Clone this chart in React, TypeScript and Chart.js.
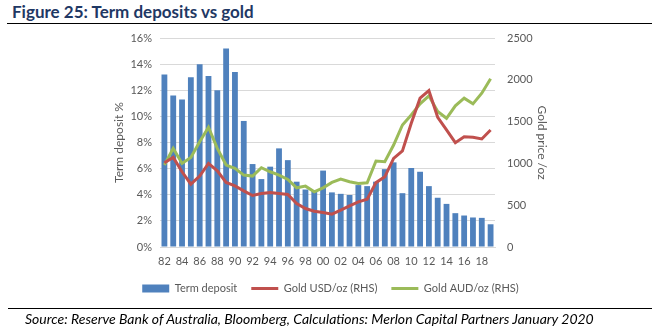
import React, { useEffect, useRef } from "react";
import { Chart, registerables } from "chart.js";

Chart.register(...registerables);

const years = [
  "82", "83", "84", "85", "86", "87", "88", "89", "90", "91", "92", "93", "94", "95", "96", "97", "98", "99",
  "00", "01", "02", "03", "04", "05", "06", "07", "08", "09", "10", "11", "12", "13", "14", "15", "16", "17", "18", "19",
];

const termDeposit = [
  13.2, 11.6, 11.3, 13.0, 14.0, 13.1, 12.0, 15.2, 13.4, 9.65, 6.35, 5.2, 6.15, 7.55, 6.65, 5.0, 4.4, 4.3,
  5.85, 4.18, 4.07, 3.98, 4.74, 4.66, 5.0, 5.96, 6.48, 4.12, 6.05, 5.76, 4.66, 3.77, 3.3, 2.59, 2.41, 2.26, 2.23, 1.74,
];

const goldUSD = [
  1007, 1072, 900, 752, 848, 1000, 911, 772, 731, 671, 616, 640, 652, 640, 628, 520, 460, 428,
  412, 392, 440, 492, 540, 572, 770, 840, 1060, 1150, 1480, 1780, 1871, 1552, 1400, 1248, 1319, 1312, 1292, 1400,
];

const goldAUD = [
  980, 1180, 1000, 1072, 1260, 1432, 1180, 980, 940, 860, 848, 948, 900, 860, 808, 708, 728, 660,
  708, 772, 812, 780, 760, 768, 1028, 1020, 1220, 1460, 1580, 1712, 1808, 1620, 1540, 1688, 1780, 1712, 1840, 2012,
];

const FONT = "Lato, 'Open Sans', sans-serif";
const TICK = "#595959";
const GRID = "#d9d9d9";

export default function App() {
  const ref = useRef<HTMLCanvasElement | null>(null);

  useEffect(() => {
    if (!ref.current) return;
    const chart = new Chart(ref.current, {
      data: {
        labels: years,
        datasets: [
          {
            type: "bar",
            label: "Term deposit",
            data: termDeposit,
            backgroundColor: "#4F81BD",
            borderWidth: 0,
            yAxisID: "y",
            order: 1,
            categoryPercentage: 1,
            barPercentage: 0.66,
          },
          {
            type: "line",
            label: "Gold USD/oz (RHS)",
            data: goldUSD,
            borderColor: "#C0504D",
            backgroundColor: "#C0504D",
            borderWidth: 3,
            pointRadius: 0,
            tension: 0,
            yAxisID: "y1",
            order: 0,
          },
          {
            type: "line",
            label: "Gold AUD/oz (RHS)",
            data: goldAUD,
            borderColor: "#9BBB59",
            backgroundColor: "#9BBB59",
            borderWidth: 3,
            pointRadius: 0,
            tension: 0,
            yAxisID: "y1",
            order: 0,
          },
        ],
      },
      options: {
        responsive: false,
        animation: false,
        devicePixelRatio: 1,
        layout: { padding: { left: 108, right: 110, top: 38, bottom: 32 } },
        plugins: {
          tooltip: { enabled: false },
          legend: {
            position: "bottom",
            labels: {
              font: { family: FONT, size: 11 },
              color: TICK,
              usePointStyle: true,
              pointStyleWidth: 27,
              boxWidth: 27,
              boxHeight: 8,
              padding: 14,
              sort: (a: any, b: any) => a.datasetIndex - b.datasetIndex,
              generateLabels: (chart: any) => {
                const items = Chart.defaults.plugins.legend.labels.generateLabels(chart);
                return items.map((it: any) => {
                  const ds = chart.data.datasets[it.datasetIndex];
                  if (ds.type === "bar") {
                    return { ...it, pointStyle: "rect", lineWidth: 0 };
                  }
                  return { ...it, pointStyle: "line", lineWidth: 3, strokeStyle: ds.borderColor };
                });
              },
            },
          },
        },
        scales: {
          x: {
            afterFit: (s: any) => { s.height = 22; },
            grid: { display: false, drawTicks: false },
            border: { display: true, color: GRID },
            ticks: {
              autoSkip: false,
              maxRotation: 0,
              padding: 8,
              color: TICK,
              font: { family: FONT, size: 11 },
              callback: (_v: any, i: number) => (i % 2 === 0 ? years[i] : ""),
            },
          },
          y: {
            position: "left",
            min: 0,
            max: 16,
            afterFit: (s: any) => { s.width = 52; },
            grid: { color: GRID, drawTicks: false },
            border: { display: false },
            ticks: {
              stepSize: 2,
              padding: 8,
              color: TICK,
              font: { family: FONT, size: 11 },
              callback: (v: any) => v + "%",
            },
            title: {
              display: true,
              text: "Term deposit %",
              color: TICK,
              font: { family: FONT, size: 12 },
              padding: { top: 4, bottom: 0 },
            },
          },
          y1: {
            position: "right",
            min: 0,
            max: 2500,
            afterFit: (s: any) => { s.width = 58; },
            grid: { display: false, drawTicks: false },
            border: { display: false },
            ticks: {
              stepSize: 500,
              padding: 12,
              color: TICK,
              font: { family: FONT, size: 11 },
              callback: (v: any) => String(v),
            },
            title: {
              display: true,
              text: "Gold price /oz",
              color: TICK,
              font: { family: FONT, size: 12 },
              padding: { top: 4, bottom: 0 },
            },
          },
        },
      },
    } as any);
    return () => chart.destroy();
  }, []);

  return (
    <div style={{ position: "fixed", left: 0, top: 0, width: 663, height: 336, background: "#fff", overflow: "hidden" }}>
      <div
        style={{
          position: "absolute",
          left: 12,
          top: 2,
          fontFamily: FONT,
          fontWeight: 700,
          fontSize: 17,
          lineHeight: "20px",
          color: "#1F3864",
          whiteSpace: "nowrap",
        }}
      >
        Figure 25: Term deposits vs gold
      </div>
      <div style={{ position: "absolute", left: 7, top: 23, width: 645, height: 0, borderTop: "1.5px solid #000" }} />
      <canvas ref={ref} width={663} height={336} style={{ position: "absolute", left: 0, top: 0, width: 663, height: 336 }} />
      <div style={{ position: "absolute", left: 8, top: 308, width: 644, height: 0, borderTop: "1.5px solid #000" }} />
      <div
        style={{
          position: "absolute",
          left: 25,
          top: 310,
          fontFamily: FONT,
          fontStyle: "italic",
          fontSize: 14,
          lineHeight: "17px",
          color: "#000",
          whiteSpace: "nowrap",
        }}
      >
        Source: Reserve Bank of Australia, Bloomberg, Calculations: Merlon Capital Partners January 2020
      </div>
    </div>
  );
}
